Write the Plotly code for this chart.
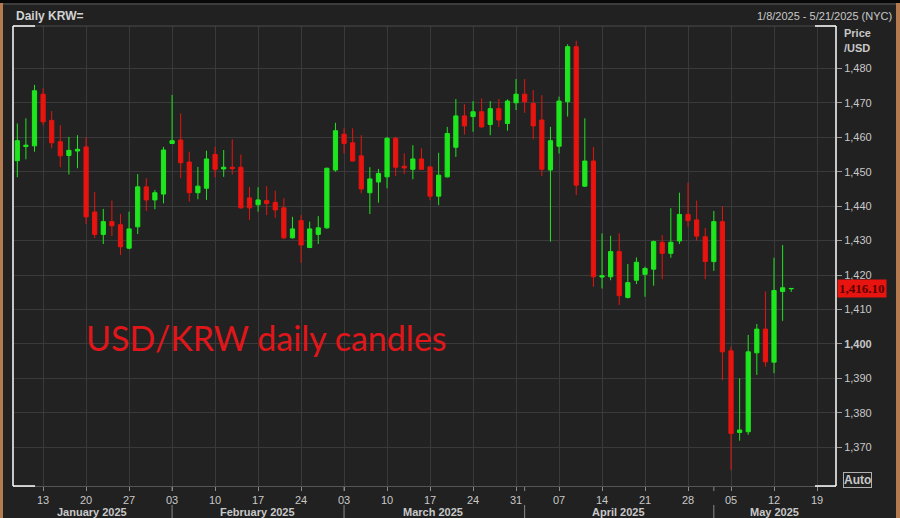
import pandas as pd
import plotly.graph_objects as go

# daily USD/KRW candles
dates = pd.bdate_range("2025-01-08", "2025-05-14").strftime("%Y-%m-%d").tolist()

open_ = [1453.2, 1457.3, 1457.5, 1472.5, 1464.9, 1458.7, 1454.7, 1456.0, 1457.2, 1438.3,
         1431.8, 1435.5, 1434.6, 1427.8, 1434.0, 1445.6, 1441.8, 1443.5,
         1458.2, 1459.2, 1452.8, 1443.9, 1445.2, 1455.0, 1450.8, 1451.3, 1451.3, 1442.4,
         1440.4, 1441.6, 1441.1, 1439.5, 1430.8, 1435.8, 1428.0, 1431.8, 1433.7, 1450.5,
         1460.9, 1458.4, 1454.6, 1443.9, 1447.0, 1448.5, 1459.7, 1451.6, 1450.7, 1453.7,
         1451.4, 1442.9, 1448.5, 1457.1, 1466.2, 1466.0, 1467.4, 1463.7, 1468.3, 1464.0,
         1470.0,
         1472.5, 1469.8, 1465.0, 1450.5, 1457.4, 1470.3, 1486.3, 1445.8, 1453.1, 1419.4,
         1419.5, 1426.8, 1413.5, 1418.5, 1420.2, 1421.7, 1429.5, 1426.3, 1429.9, 1437.6,
         1436.0, 1431.1,
         1423.9, 1435.5, 1398.0, 1374.3, 1374.5, 1397.4, 1404.3, 1394.7, 1415.2, 1416.0]
high = [1464.0, 1465.5, 1475.2, 1474.2, 1467.6, 1463.5, 1460.1, 1460.6, 1460.0, 1444.1,
        1439.2, 1441.6, 1437.7, 1438.4, 1449.3, 1448.1, 1444.7, 1457.2,
        1472.3, 1466.9, 1455.8, 1451.4, 1456.1, 1457.2, 1456.3, 1459.4, 1455.0, 1445.6,
        1445.5, 1445.8, 1444.5, 1442.3, 1436.9, 1437.4, 1435.5, 1437.1, 1451.2, 1464.2,
        1462.6, 1462.6, 1460.6, 1451.3, 1450.8, 1460.1, 1460.1, 1455.3, 1457.7, 1456.8,
        1451.6, 1455.5, 1463.0, 1471.1, 1469.6, 1470.5, 1471.3, 1470.5, 1471.1, 1471.0,
        1476.9,
        1476.9, 1473.7, 1472.2, 1463.0, 1471.8, 1487.0, 1488.0, 1465.5, 1457.2, 1432.1,
        1431.4, 1432.1, 1423.2, 1425.1, 1422.4, 1430.0, 1431.6, 1439.4, 1443.9, 1446.8,
        1441.6, 1433.7,
        1438.6, 1440.0, 1399.2, 1390.0, 1402.6, 1405.8, 1415.2, 1425.0, 1428.7, 1416.2]
low = [1448.4, 1453.6, 1455.8, 1463.5, 1456.8, 1451.3, 1449.2, 1451.0, 1434.8, 1430.7,
       1429.0, 1431.3, 1425.8, 1427.5, 1431.9, 1438.6, 1439.1, 1440.8,
       1458.0, 1448.1, 1441.3, 1442.0, 1441.8, 1448.4, 1448.5, 1449.2, 1439.3, 1436.0,
       1438.4, 1437.4, 1436.6, 1430.4, 1430.6, 1423.6, 1427.8, 1429.0, 1433.4, 1450.0,
       1455.3, 1453.0, 1443.7, 1437.7, 1441.0, 1445.2, 1448.7, 1449.3, 1447.8, 1450.5,
       1441.8, 1440.3, 1448.3, 1454.3, 1460.8, 1461.6, 1462.8, 1460.6, 1463.0, 1461.9,
       1467.9,
       1467.1, 1459.4, 1448.7, 1429.7, 1455.3, 1466.0, 1443.2, 1445.6, 1416.6, 1416.1,
       1418.5, 1411.3, 1413.2, 1417.4, 1413.7, 1416.9, 1418.8, 1425.0, 1429.0, 1434.0,
       1430.0, 1418.8,
       1421.2, 1389.5, 1363.4, 1371.9, 1373.6, 1391.0, 1393.4, 1391.5, 1406.7, 1415.1]
close = [1459.0, 1457.7, 1473.5, 1464.5, 1458.4, 1454.6, 1456.2, 1456.5, 1436.9, 1431.8,
         1435.5, 1434.3, 1428.2, 1433.4, 1445.6, 1441.8, 1443.9, 1456.3,
         1459.0, 1452.6, 1443.9, 1445.8, 1453.7, 1450.7, 1451.3, 1450.9, 1439.5, 1439.5,
         1441.8, 1440.8, 1438.9, 1430.8, 1433.4, 1428.7, 1433.4, 1433.7, 1451.0, 1461.9,
         1458.2, 1453.1, 1445.0, 1447.9, 1449.5, 1459.7, 1451.3, 1451.1, 1453.7, 1450.7,
         1442.9, 1449.0, 1461.1, 1466.2, 1463.3, 1467.4, 1463.0, 1468.3, 1465.0, 1470.5,
         1472.5,
         1470.3, 1463.3, 1450.7, 1459.0, 1470.5, 1486.3, 1446.1, 1453.1, 1419.5, 1419.8,
         1426.8, 1414.0, 1417.8, 1423.7, 1421.9, 1429.7, 1426.3, 1429.5, 1437.6, 1435.8,
         1431.3, 1423.9,
         1435.5, 1397.7, 1374.0, 1375.0, 1397.7, 1404.3, 1394.8, 1415.5, 1416.3, 1416.1]

week_ticks = ["2025-01-13", "2025-01-20", "2025-01-27", "2025-02-03", "2025-02-10",
              "2025-02-17", "2025-02-24", "2025-03-03", "2025-03-10", "2025-03-17",
              "2025-03-24", "2025-03-31", "2025-04-07", "2025-04-14", "2025-04-21",
              "2025-04-28", "2025-05-05", "2025-05-12", "2025-05-19"]
price_ticks = [1370, 1380, 1390, 1400, 1410, 1420, 1430, 1440, 1450, 1460, 1470, 1480]
price_labels = ["<b>1,400</b>" if p == 1400 else f"{p:,}" for p in price_ticks]
month_names = ["January 2025", "February 2025", "March 2025", "April 2025", "May 2025"]
month_starts = ["2025-02-03", "2025-03-03", "2025-04-01", "2025-05-01"]
last_price = 1416.10

GREEN = "#1ee61e"
RED = "#e8140f"
TXT = "#c8c8c8"
GRID = "#3a3a3a"


def px(x):
    return (x - 13) / 823


def py(y):
    return (486 - y) / 460


fig = go.Figure()
fig.add_trace(go.Candlestick(
    x=dates, open=open_, high=high, low=low, close=close,
    increasing=dict(line=dict(color=GREEN, width=1), fillcolor=GREEN),
    decreasing=dict(line=dict(color=RED, width=1), fillcolor=RED),
    showlegend=False, hoverinfo="skip",
))

shapes = []
# frame pieces around the chart
shapes.append(dict(type="rect", xref="paper", yref="paper", x0=px(-5), x1=px(905),
                   y0=py(3), y1=py(-5), fillcolor="#080808", line_width=0, layer="below"))
shapes.append(dict(type="line", xref="paper", yref="paper", x0=px(0), x1=px(900),
                   y0=py(4), y1=py(4), line=dict(color="#5a5a5a", width=1)))
shapes.append(dict(type="line", xref="paper", yref="paper", x0=px(13), x1=px(836),
                   y0=1, y1=1, line=dict(color="#4a4a4a", width=1)))
shapes.append(dict(type="rect", xref="paper", yref="paper", x0=px(-2), x1=px(3),
                   y0=py(525), y1=py(3), fillcolor="#b57a4e", line_width=0))
shapes.append(dict(type="rect", xref="paper", yref="paper", x0=px(896), x1=px(905),
                   y0=py(525), y1=py(3), fillcolor="#b57a4e", line_width=0))
# white brackets of the visible range
for x0, x1 in [(13, 35), (815, 836)]:
    for y in (0, 1):
        shapes.append(dict(type="line", xref="paper", yref="paper", x0=px(x0), x1=px(x1),
                           y0=y, y1=y, line=dict(color="white", width=1.5)))
for x in (13, 836):
    shapes.append(dict(type="line", xref="paper", yref="paper", x0=px(x), x1=px(x),
                       y0=0, y1=1, line=dict(color="white", width=1.5)))
# month separators under the axis
for d in month_starts:
    shapes.append(dict(type="line", xref="x", yref="paper", x0=d, x1=d,
                       y0=py(505), y1=py(518), line=dict(color="#8a8a8a", width=1)))
    shapes.append(dict(type="line", xref="x", yref="paper", x0=d, x1=d,
                       y0=py(487), y1=py(491), line=dict(color="#8a8a8a", width=1)))

annotations = [
    dict(text="<b>Daily KRW=</b>", x=px(14), y=py(16), xanchor="left", yanchor="middle",
         font=dict(size=12, color="#d2d2d2")),
    dict(text="1/8/2025 - 5/21/2025 (NYC)", x=px(894), y=py(16), xanchor="right",
         yanchor="middle", font=dict(size=11, color=TXT)),
    dict(text="<b>Price</b>", x=px(842), y=py(33), xanchor="left", yanchor="middle",
         font=dict(size=11, color=TXT)),
    dict(text="<b>/USD</b>", x=px(842), y=py(48), xanchor="left", yanchor="middle",
         font=dict(size=11, color=TXT)),
    dict(text="<b>Auto</b>", x=px(843), y=py(480), xanchor="left", yanchor="middle",
         font=dict(size=12, color=TXT), bordercolor="#b0b0b0", borderwidth=1, borderpad=0),
    dict(text="<b>1,416.10</b>", x=px(837), xref="paper", y=last_price, yref="y",
         xanchor="left", yanchor="middle", bgcolor=RED, borderpad=1,
         font=dict(size=13, color="#5a0000", family="Liberation Serif")),
    dict(text="USD/KRW daily candles", x=px(84), y=py(337), xanchor="left",
         yanchor="middle", font=dict(size=34, color="#e0161a", family="Lato")),
]
centers = [92, 257, 433, 618, 774]
for i, name in enumerate(month_names):
    annotations.append(dict(text=f"<b>{name}</b>", x=px(centers[i]), y=py(512),
                            xanchor="center", yanchor="middle",
                            font=dict(size=11, color=TXT)))
for a in annotations:
    a.setdefault("xref", "paper")
    a.setdefault("yref", "paper")
    a["showarrow"] = False

fig.update_layout(
    width=900, height=518,
    margin=dict(l=13, r=64, t=26, b=32),
    paper_bgcolor="#212121",
    plot_bgcolor="#222222",
    font=dict(family="Liberation Sans", size=11, color=TXT),
    shapes=shapes,
    annotations=annotations,
    xaxis=dict(
        type="date",
        rangebreaks=[dict(bounds=["sat", "mon"])],
        range=["2025-01-07 12:00", "2025-05-21 05:00"],
        tickvals=week_ticks, tickformat="%d",
        ticks="outside", ticklen=4, tickcolor="#8a8a8a",
        showgrid=True, gridcolor=GRID, gridwidth=1,
        showline=True, linecolor="#555555",
        zeroline=False, rangeslider=dict(visible=False),
        tickfont=dict(size=11, color=TXT),
    ),
    yaxis=dict(
        side="right", range=[1358.75, 1492.3],
        tickvals=price_ticks, ticktext=price_labels,
        ticks="outside", ticklen=5, tickcolor="#9a9a9a",
        showgrid=True, gridcolor=GRID, gridwidth=1,
        zeroline=False, showline=False,
        tickfont=dict(size=11, color=TXT),
    ),
)

# the page's default body margin would push the 900x518 figure off the window
fig.write_html("out.html",
               config={"displayModeBar": False},
               post_script="document.body.style.margin='0';"
                           "document.body.style.background='#212121';")
